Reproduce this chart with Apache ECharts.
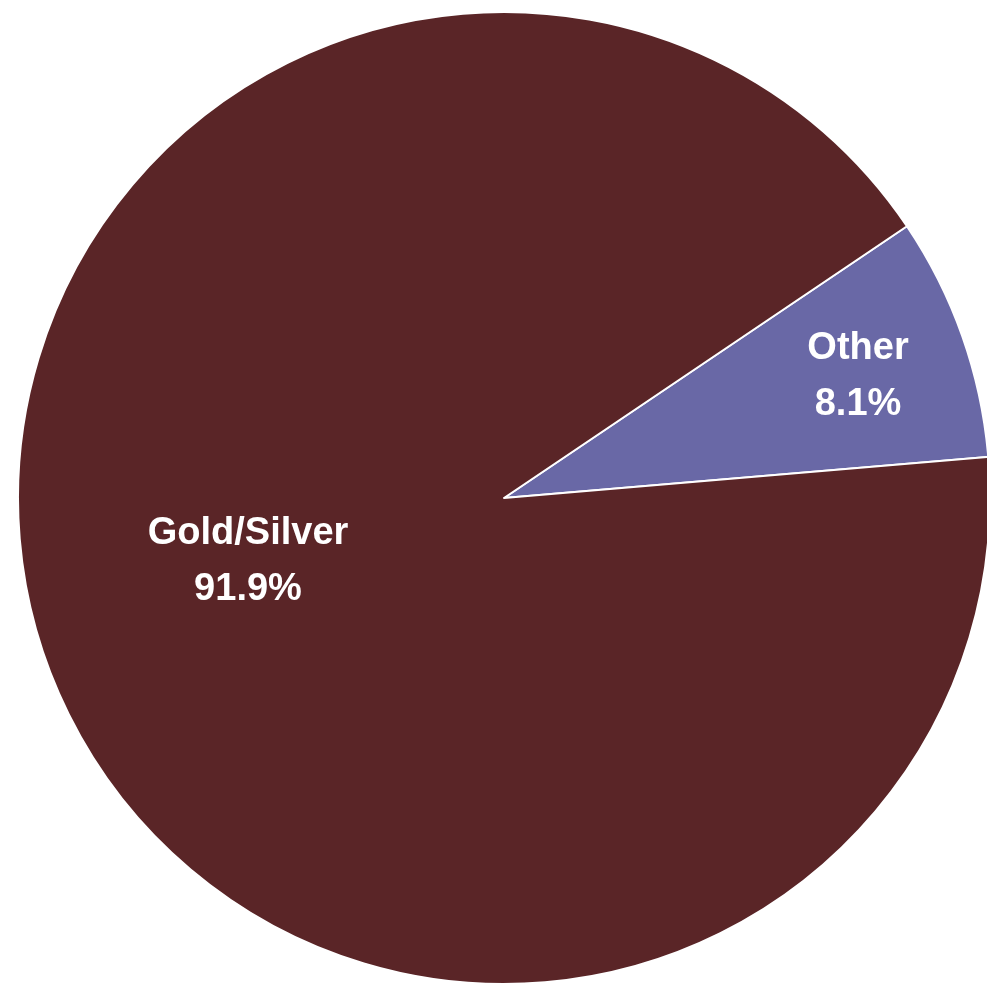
<!DOCTYPE html>
<html>
<head>
<meta charset="utf-8">
<script src="https://cdn.jsdelivr.net/npm/echarts@6/dist/echarts.min.js"></script>
<style>
html,body{margin:0;padding:0;background:#fff;}
#chart{width:987px;height:986px;}
</style>
</head>
<body>
<div id="chart"></div>
<script>
const categories = ['Other', 'Gold/Silver'];
const shares = [8.1, 91.9];
const colors = ['#6968A6', '#5A2527'];
const labelShift = [[122, -40], [-24, -18]];

const chart = echarts.init(document.getElementById('chart'), null, {renderer: 'canvas'});
chart.setOption({
  backgroundColor: '#ffffff',
  animation: false,
  series: [{
    type: 'pie',
    center: [504, 498],
    radius: [0, 486],
    startAngle: 34,
    clockwise: true,
    avoidLabelOverlap: false,
    itemStyle: { borderColor: '#ffffff', borderWidth: 2 },
    label: {
      show: true,
      position: 'inside',
      formatter: '{b}\n{c}%',
      color: '#ffffff',
      fontFamily: 'Liberation Sans, Arial, sans-serif',
      fontWeight: 'bold',
      fontSize: 38,
      lineHeight: 56,
      align: 'center'
    },
    labelLine: { show: false },
    labelLayout: function (p) {
      const s = labelShift[p.dataIndex];
      return { dx: s[0], dy: s[1] };
    },
    data: categories.map((c, i) => ({
      name: c,
      value: shares[i],
      itemStyle: { color: colors[i] }
    }))
  }]
});
</script>
</body>
</html>
